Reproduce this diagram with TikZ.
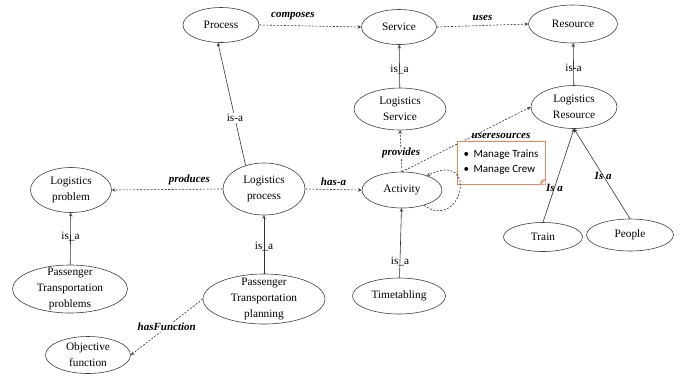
\documentclass[tikz,border=0pt]{standalone}
\usepackage{fontspec}
\setmainfont{Liberation Serif}
\newfontfamily\notefont{Carlito}
\usetikzlibrary{shapes.geometric}

\begin{document}
\begin{tikzpicture}[x=1pt,y=-1pt,
        concept/.style={draw=black!75, line width=0.6pt, ellipse, inner sep=0pt, align=center,
            font=\fontsize{11.3}{16}\selectfont},
        isa/.style={->,>=stealth, draw=black!80, line width=0.6pt},
        rel/.style={->,>=stealth, draw=black!80, line width=0.6pt, dash pattern=on 2pt off 1.5pt},
        plain/.style={inner sep=1pt, font=\fontsize{11.3}{13}\selectfont},
        relname/.style={inner sep=1pt, font=\fontsize{11}{13}\selectfont\bfseries\itshape},
        inner/.style={align=center, font=\fontsize{11.3}{16}\selectfont}]
        \useasboundingbox [fill=white] (0,0) rectangle (687,376);
        % concepts
        \node[concept, minimum width=76, minimum height=35] (process) at (221,25) {Process};
        \node[concept, minimum width=75, minimum height=35] (service) at (399,27) {Service};
        \node[concept, minimum width=89, minimum height=38] (resource) at (573,24) {Resource};
        \node[concept, minimum width=92, minimum height=42] (lserv) at (400,109) {Logistics\\Service};
        \node[concept, minimum width=86, minimum height=43] (lres) at (574,107) {Logistics\\Resource};
        \node[concept, minimum width=81, minimum height=45] (lprob) at (71,190) {Logistics\\problem};
        \node[concept, minimum width=82, minimum height=52] (lproc) at (264,189) {Logistics\\process};
        \node[concept, minimum width=80, minimum height=36] (activity) at (402,190) {Activity};
        \node[concept, minimum width=79, minimum height=29] (train) at (543,237) {Train};
        \node[concept, minimum width=87, minimum height=32] (people) at (630,235) {People};
        \node[concept, minimum width=93, minimum height=36] (timetab) at (399,296) {Timetabling};
        \node[concept, minimum width=115, minimum height=48,
            label={[inner]center:Passenger\\Transportation\\problems}] (ptprob) at (70,289) {};
        \node[concept, minimum width=122, minimum height=50,
            label={[inner]center:Passenger\\Transportation\\planning}] (ptplan) at (264,299) {};
        \node[concept, minimum width=85, minimum height=37] (objfun) at (88,355) {Objective\\function};
        % is-a links
        \draw [isa] (lproc.128) -- node[plain, fill=white, pos=.385] {is-a} (process.260);
        \draw [isa] (lserv) -- node[plain, pos=.42] {is\_a} (service);
        \draw [isa] (lres) -- node[plain, pos=.42] {is-a} (resource);
        \draw [isa] (ptprob) -- node[plain, pos=.54] {is\_a} (lprob);
        \draw [isa] (ptplan) -- node[plain, pos=.47] {is\_a} (lproc);
        \draw [isa] (timetab) -- node[plain, pos=.24] {is\_a} (activity);
        \draw [isa] (train.north) -- node[relname, pos=.37] {Is a} (lres.south);
        \draw [isa] (people.north) -- node[relname, pos=.48] {Is a} (lres.south);
        % relations
        \draw [rel] (process.east) -- node[relname, above=5pt, pos=.33] {composes} (service.west);
        \draw [rel] (service.east) -- node[relname, above=4pt] {uses} (resource.west);
        \draw [rel] (lproc.west) -- node[relname, above=3pt, pos=.3] {produces} (lprob.east);
        \draw [rel] (lproc.east) -- node[relname, above=3pt] {has-a} (activity.west);
        \draw [rel] (activity.north) -- node[relname, fill=white, pos=.45] {provides} (lserv.south);
        \draw [rel] (activity.north) -- (lres.west);
        \draw [rel] (ptplan.west) -- node[relname, fill=white, pos=.5] {hasFunction} (objfun.east);
        % note
        \node[draw={rgb,255:red,240;green,130;blue,90}, fill=white, line width=0.7pt, minimum width=88,
            minimum height=43, inner sep=2pt, align=left, font=\notefont\fontsize{11}{15}\selectfont]
            (note) at (501,162.5) {\makebox[10pt][l]{\textbullet}Manage Trains\\\makebox[10pt][l]{\textbullet}Manage Crew};
        \fill [white] ([xshift=-5pt]note.south east) -- (note.south east) -- ([yshift=5pt]note.south east) -- cycle;
        \draw [draw={rgb,255:red,240;green,130;blue,90}, line width=0.6pt, fill={rgb,255:red,250;green,200;blue,170}]
            ([xshift=-5pt]note.south east) -- ([xshift=-4pt,yshift=4pt]note.south east) -- ([yshift=5pt]note.south east) -- cycle;
        \node[relname, above=1pt] (usesres) at (note.north) {useresources};
        \draw [rel] (activity.-35) .. controls (462,232) and (480,150) .. (activity.30);
\end{tikzpicture}
\end{document}
